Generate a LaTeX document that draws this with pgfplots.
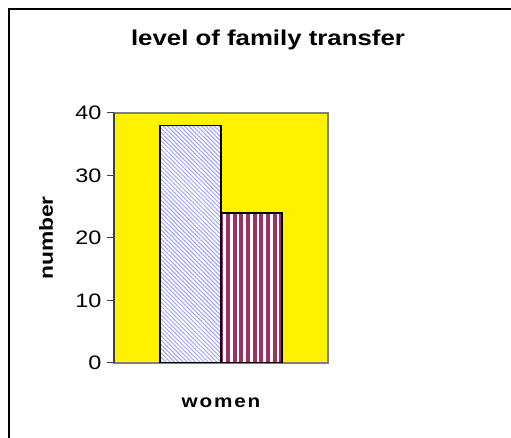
\documentclass[border=0pt]{standalone}
\usepackage{pgfplots}
\pgfplotsset{compat=1.18}
\usepackage{fontspec}
\setmainfont{Liberation Sans}
\newfontfamily\cf{Liberation Sans}[FakeStretch=1.2]
\newfontfamily\cfw{Liberation Sans}[FakeStretch=1.15,LetterSpace=10]
\usetikzlibrary{patterns.meta}
\definecolor{barblue}{RGB}{160,160,250}
\definecolor{barmaroon}{RGB}{153,51,102}
\definecolor{axisdark}{RGB}{64,64,64}
\begin{document}
\begin{tikzpicture}
\useasboundingbox (-114pt,-75pt) rectangle (397pt,363pt);
\draw[black, line width=1.3pt] (-105pt,-80pt) -- (-105pt,354pt) -- (400pt,354pt);
\begin{axis}[
  at={(0,0)}, anchor=south west,
  scale only axis, width=214pt, height=250pt,
  xmin=-107, xmax=107, ymin=0, ymax=40,
  ybar=0pt, bar width=61pt,
  axis x line*=bottom, axis y line*=left,
  x axis line style={draw=gray, line width=1.2pt},
  y axis line style={draw=axisdark, line width=1.2pt},
  axis background/.style={fill=yellow, draw=gray, line width=1.2pt},
  xtick={0}, xticklabels={women},
  major x tick style={draw=none},
  xticklabel style={font=\cfw\fontsize{18}{20}\selectfont\bfseries, yshift=-24pt},
  ytick={0,10,20,30,40},
  tick align=outside, major tick length=7pt,
  major y tick style={draw=axisdark, line width=1pt},
  yticklabel style={font=\cf\fontsize{19.5}{22}\selectfont, xshift=-2pt},
  /pgf/number format/assume math mode=true,
  ylabel={number},
  ylabel style={font=\cf\fontsize{19}{22}\selectfont\bfseries, at={([xshift=-68pt]axis description cs:0,0.5)}, anchor=center, rotate=0},
  title={level of family transfer},
  title style={font=\cf\fontsize{21.5}{24}\selectfont\bfseries, at={([xshift=47pt,yshift=61pt]axis description cs:0.5,1)}, anchor=base},
]
\addplot[draw=black, line width=1.3pt, fill=white, postaction={pattern={Lines[angle=-45, distance=3pt, line width=1pt]}, pattern color=barblue}] coordinates {(0,38)};
\addplot[draw=black, line width=1.3pt, fill=white, postaction={pattern={Lines[angle=90, distance=6.7pt, line width=4pt]}, pattern color=barmaroon}] coordinates {(0,24)};
\end{axis}
\end{tikzpicture}
\end{document}
